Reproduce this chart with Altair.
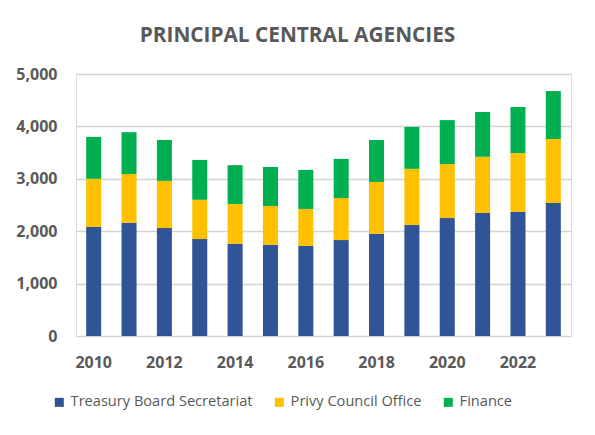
import altair as alt
import pandas as pd

years = list(range(2010, 2024))
tbs = [2080, 2160, 2060, 1850, 1760, 1740, 1720, 1830, 1950, 2120, 2250, 2350, 2370, 2540]
pco = [920, 930, 900, 750, 760, 740, 705, 800, 990, 1070, 1030, 1070, 1120, 1220]
fin = [800, 800, 780, 760, 740, 745, 745, 750, 800, 800, 840, 855, 880, 915]

series = ["Treasury Board Secretariat", "Privy Council Office", "Finance"]
colors = ["#2F5597", "#FFC000", "#00B050"]

rows = []
for i, y in enumerate(years):
    for k, (name, vals) in enumerate(zip(series, [tbs, pco, fin])):
        rows.append({"year": y, "agency": name, "value": vals[i], "order": k})
df = pd.DataFrame(rows)

FONT = "Open Sans"
GRAY = "#595959"

chart = alt.Chart(df).mark_bar().encode(
    x=alt.X("year:O",
            scale=alt.Scale(paddingInner=0.575, paddingOuter=0.2875),
            axis=alt.Axis(title=None, values=[2010, 2012, 2014, 2016, 2018, 2020, 2022],
                          labelAngle=0, ticks=False, domain=False, labelPadding=18,
                          labelFont=FONT, labelFontSize=16, labelFontWeight="bold",
                          labelColor=GRAY)),
    y=alt.Y("value:Q", stack="zero",
            scale=alt.Scale(domain=[0, 5000], nice=False),
            axis=alt.Axis(title=None, values=[0, 1000, 2000, 3000, 4000, 5000], format=",.0f",
                          ticks=False, domain=False, labelPadding=19,
                          labelFont=FONT, labelFontSize=16, labelFontWeight="bold",
                          labelColor=GRAY, gridColor="#D4D4D4", gridWidth=1.4)),
    color=alt.Color("agency:N", sort=series,
                    scale=alt.Scale(domain=series, range=colors),
                    legend=alt.Legend(title=None, orient="none", direction="horizontal",
                                      legendX=-24, legendY=321,
                                      symbolType="square", symbolSize=81,
                                      symbolStrokeWidth=0, labelLimit=400,
                                      labelFont=FONT, labelFontSize=14.6, labelColor=GRAY,
                                      labelOffset=4, columnPadding=19)),
    order=alt.Order("order:Q", sort="ascending"),
).properties(
    width=495,
    height=262,
    title=alt.TitleParams("PRINCIPAL CENTRAL AGENCIES", font=FONT, fontSize=20.8,
                          fontWeight="bold", color=GRAY, anchor="middle",
                          dx=-26, offset=19),
    autosize=alt.AutoSizeParams(type="none"),
    padding={"left": 68, "top": 66, "right": 16, "bottom": 91},
).configure_view(stroke=None).configure(background="white")

chart.save("out.html", embed_options={"renderer": "svg", "actions": False})
